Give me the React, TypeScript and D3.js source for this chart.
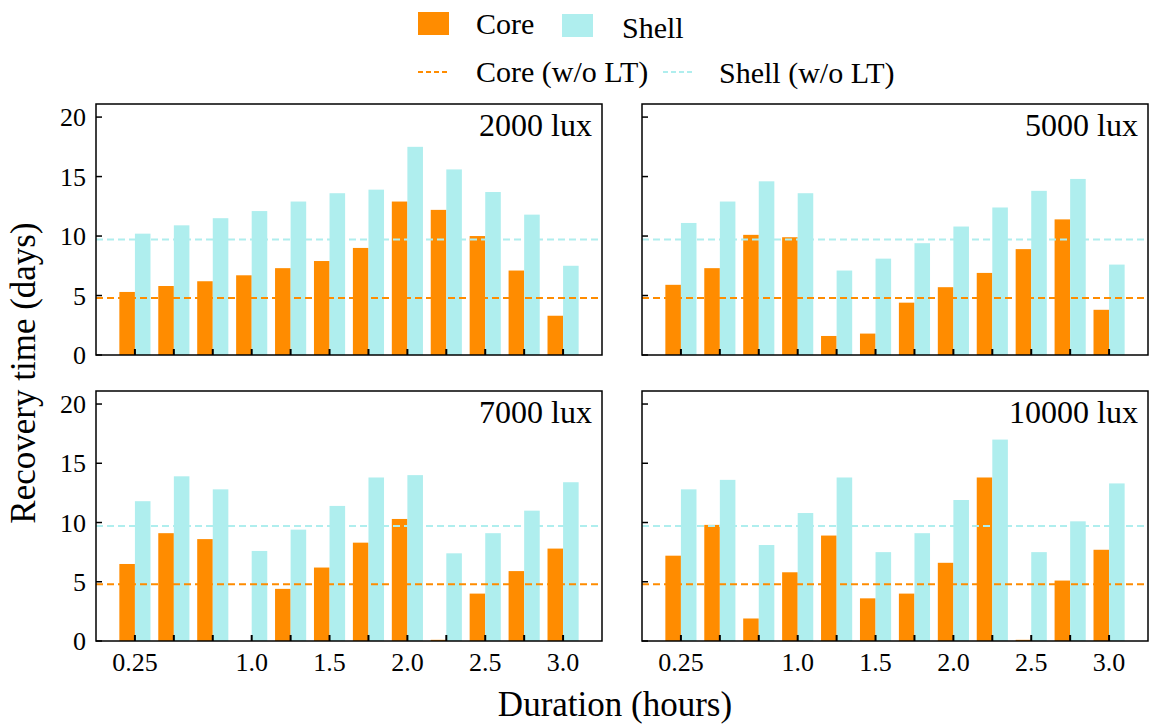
import React from "react"
import * as d3 from "d3"

const durations = [0.25, 0.5, 0.75, 1.0, 1.25, 1.5, 1.75, 2.0, 2.25, 2.5, 2.75, 3.0]
const tickLabels = [0.25, 1.0, 1.5, 2.0, 2.5, 3.0]
const yTicks = [0, 5, 10, 15, 20]
const panelTitles = ["2000 lux", "5000 lux", "7000 lux", "10000 lux"]

const core2000 = [5.3, 5.8, 6.2, 6.7, 7.3, 7.9, 9.0, 12.9, 12.2, 10.0, 7.1, 3.3]
const shell2000 = [10.2, 10.9, 11.5, 12.1, 12.9, 13.6, 13.9, 17.5, 15.6, 13.7, 11.8, 7.5]
const core5000 = [5.9, 7.3, 10.1, 9.9, 1.6, 1.8, 4.4, 5.7, 6.9, 8.9, 11.4, 3.8]
const shell5000 = [11.1, 12.9, 14.6, 13.6, 7.1, 8.1, 9.4, 10.8, 12.4, 13.8, 14.8, 7.6]
const core7000 = [6.5, 9.1, 8.6, 0, 4.4, 6.2, 8.3, 10.3, 0.1, 4.0, 5.9, 7.8]
const shell7000 = [11.8, 13.9, 12.8, 7.6, 9.4, 11.4, 13.8, 14.0, 7.4, 9.1, 11.0, 13.4]
const core10000 = [7.2, 9.8, 1.9, 5.8, 8.9, 3.6, 4.0, 6.6, 13.8, 0.1, 5.1, 7.7]
const shell10000 = [12.8, 13.6, 8.1, 10.8, 13.8, 7.5, 9.1, 11.9, 17.0, 7.5, 10.1, 13.3]

const coreBaseline = 4.8
const shellBaseline = 9.7

const coreSeries = [core2000, core5000, core7000, core10000]
const shellSeries = [shell2000, shell5000, shell7000, shell10000]

const ORANGE = "#ff8c00"
const CYAN = "#afeeee"
const serif = { fontFamily: '"Liberation Serif", "Times New Roman", serif' }

const W = 1153
const H = 724
const cols = [[96, 602], [642, 1148]]
const rows = [[104, 355], [391, 641]]
const barW = 0.1

function Panel({ idx }: { idx: number }) {
  const c = idx % 2
  const r = Math.floor(idx / 2)
  const [x0, x1] = cols[c]
  const [y0, y1] = rows[r]
  const x = d3.scaleLinear().domain([0, 3.25]).range([x0, x1])
  const y = d3.scaleLinear().domain([0, 21.1]).range([y1, y0])
  const core = coreSeries[idx]
  const shell = shellSeries[idx]
  return (
    <g>
      {durations.map((d, i) => (
        <g key={i}>
          <rect x={x(d - barW)} y={y(core[i])} width={x(d) - x(d - barW)} height={y(0) - y(core[i])} fill={ORANGE} />
          <rect x={x(d)} y={y(shell[i])} width={x(d + barW) - x(d)} height={y(0) - y(shell[i])} fill={CYAN} />
        </g>
      ))}
      <line x1={x0} x2={x1} y1={y(coreBaseline)} y2={y(coreBaseline)} stroke={ORANGE} strokeWidth={2} strokeDasharray="7,4" />
      <line x1={x0} x2={x1} y1={y(shellBaseline)} y2={y(shellBaseline)} stroke={CYAN} strokeWidth={2} strokeDasharray="7,4" />
      {durations.map((d, i) => (
        <line key={"xt" + i} x1={x(d)} x2={x(d)} y1={y1} y2={y1 - 6} stroke="#000" strokeWidth={2} />
      ))}
      {yTicks.map((t) => (
        <line key={"yt" + t} x1={x0} x2={x0 + 6} y1={y(t)} y2={y(t)} stroke="#000" strokeWidth={1.5} />
      ))}
      {c === 0 &&
        yTicks.map((t) => (
          <text key={"yl" + t} x={x0 - 10} y={y(t)} dy="0.35em" textAnchor="end" fontSize={26} style={serif}>
            {t}
          </text>
        ))}
      {r === 1 &&
        tickLabels.map((t) => (
          <text key={"xl" + t} x={x(t)} y={y1 + 30} textAnchor="middle" fontSize={26} style={serif}>
            {t === 0.25 ? "0.25" : t.toFixed(1)}
          </text>
        ))}
      <rect x={x0} y={y0} width={x1 - x0} height={y1 - y0} fill="none" stroke="#000" strokeWidth={1.5} />
      <text x={x1 - 10} y={y0 + 32} textAnchor="end" fontSize={32} style={serif}>
        {panelTitles[idx]}
      </text>
    </g>
  )
}

export default function App() {
  return (
    <svg width={W} height={H} style={{ position: "absolute", left: 0, top: 0, background: "#fff" }}>
      <rect x={418} y={12} width={31} height={23} fill={ORANGE} />
      <text x={476} y={34} fontSize={30} style={serif}>Core</text>
      <rect x={562} y={14} width={31} height={23} fill={CYAN} />
      <text x={622} y={38} fontSize={30} style={serif}>Shell</text>
      <line x1={418} x2={449} y1={72} y2={72} stroke={ORANGE} strokeWidth={2} strokeDasharray="5,3" />
      <text x={476} y={82} fontSize={30} style={serif}>Core (w/o LT)</text>
      <line x1={663} x2={694} y1={72} y2={72} stroke={CYAN} strokeWidth={2} strokeDasharray="5,3" />
      <text x={719} y={83} fontSize={30} style={serif}>Shell (w/o LT)</text>
      {[0, 1, 2, 3].map((i) => (
        <Panel key={i} idx={i} />
      ))}
      <text transform="translate(35,373) rotate(-90)" textAnchor="middle" fontSize={35} style={serif}>
        Recovery time (days)
      </text>
      <text x={615} y={716} textAnchor="middle" fontSize={35} style={serif}>
        Duration (hours)
      </text>
    </svg>
  )
}
